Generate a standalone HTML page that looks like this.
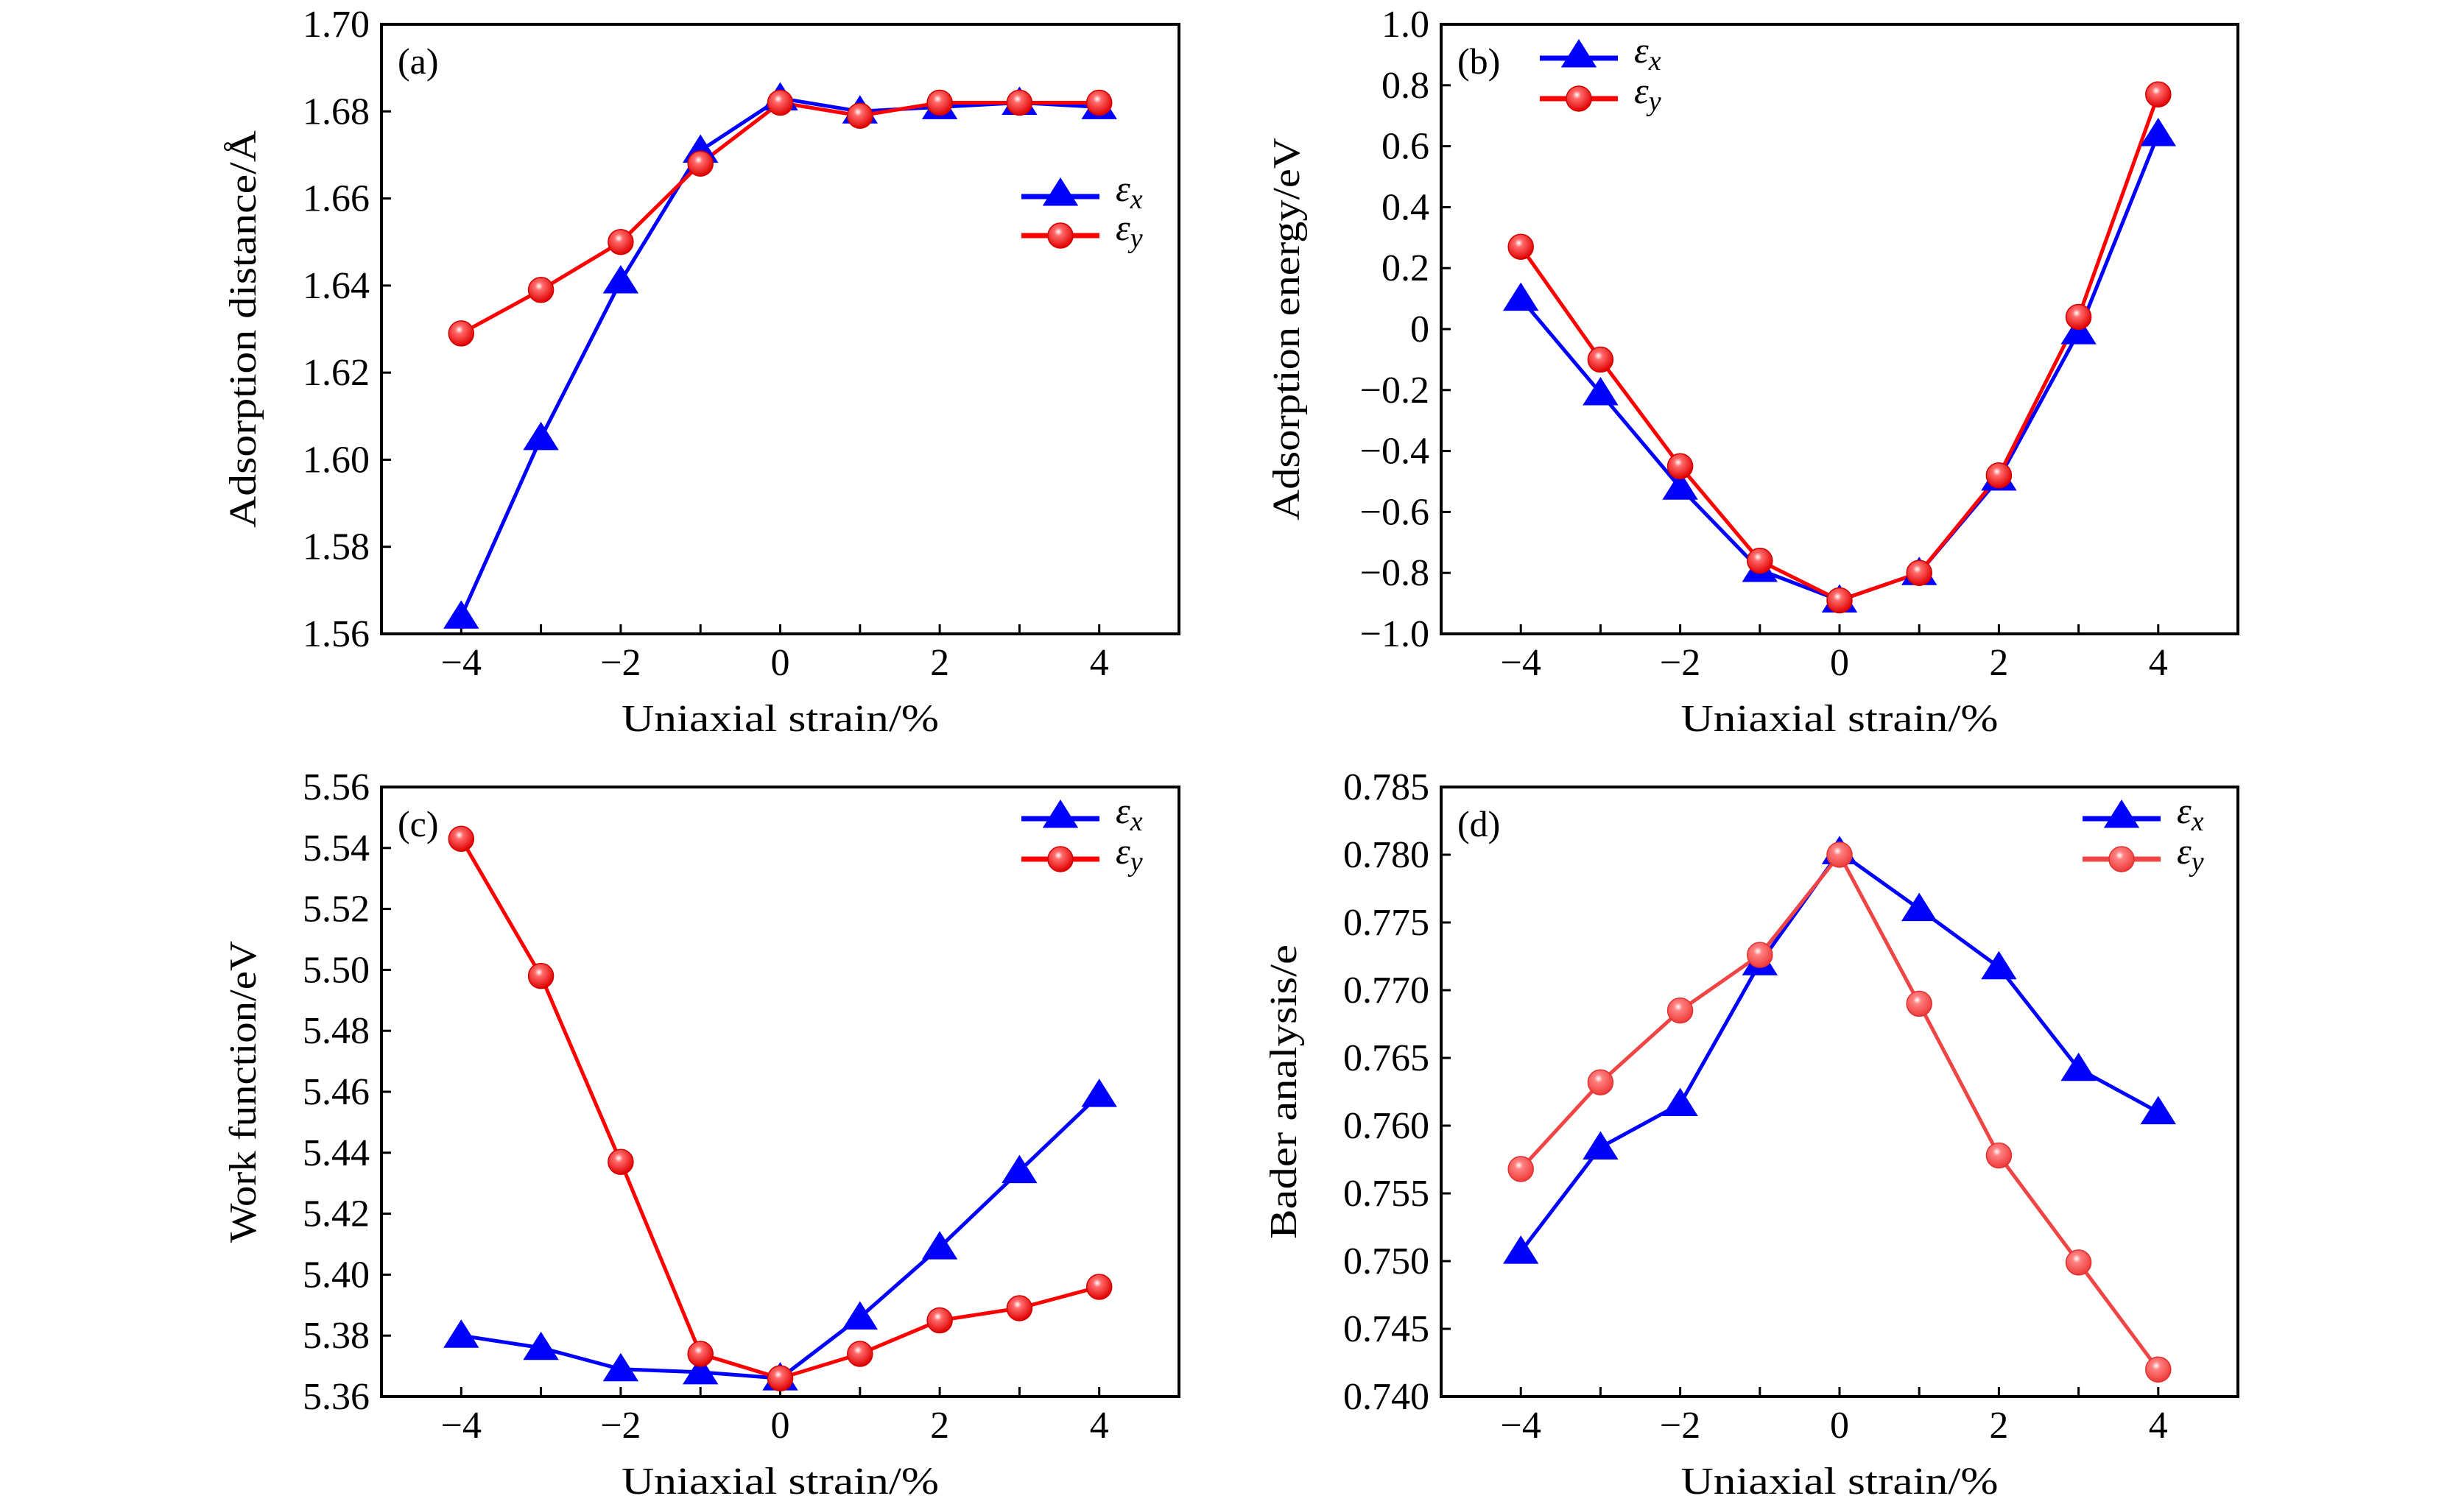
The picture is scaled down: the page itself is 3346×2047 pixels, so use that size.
<!DOCTYPE html>
<html><head><meta charset="utf-8"><style>
html,body{margin:0;padding:0;background:#fff;}
svg{display:block;font-family:"Liberation Serif",serif;}
</style></head><body>
<svg id="chart" xmlns="http://www.w3.org/2000/svg" width="3346" height="2047" viewBox="0 0 3346 2047">
<defs>
<radialGradient id="gr" cx="0.42" cy="0.35" r="0.65"><stop offset="0" stop-color="#fff"/><stop offset="0.25" stop-color="#ff6a6a"/><stop offset="1" stop-color="#e00000"/></radialGradient>
<radialGradient id="gr2" cx="0.42" cy="0.35" r="0.65"><stop offset="0" stop-color="#fff"/><stop offset="0.25" stop-color="#ff8080"/><stop offset="1" stop-color="#ee3a3a"/></radialGradient>
</defs>
</svg>
<script>
const strains = [-4,-3,-2,-1,0,1,2,3,4];
const xTicks = [-4,-2,0,2,4];
const aX = [1.564,1.605,1.641,1.671,1.683,1.680,1.681,1.682,1.681];
const aY = [1.629,1.639,1.650,1.668,1.682,1.679,1.682,1.682,1.682];
const aTicks = ["1.56","1.58","1.60","1.62","1.64","1.66","1.68","1.70"];
const bX = [0.10,-0.21,-0.52,-0.79,-0.89,-0.80,-0.49,-0.01,0.64];
const bY = [0.27,-0.10,-0.45,-0.76,-0.89,-0.80,-0.48,0.04,0.77];
const bTicks = ["−1.0","−0.8","−0.6","−0.4","−0.2","0","0.2","0.4","0.6","0.8","1.0"];
const cX = [5.380,5.376,5.369,5.368,5.366,5.386,5.409,5.434,5.459];
const cY = [5.543,5.498,5.437,5.374,5.366,5.374,5.385,5.389,5.396];
const cTicks = ["5.36","5.38","5.40","5.42","5.44","5.46","5.48","5.50","5.52","5.54","5.56"];
const dX = [0.7507,0.7584,0.7616,0.7720,0.7802,0.7760,0.7717,0.7642,0.7610];
const dY = [0.7568,0.7632,0.7685,0.7726,0.7800,0.7690,0.7578,0.7499,0.7420];
const dTicks = ["0.740","0.745","0.750","0.755","0.760","0.765","0.770","0.775","0.780","0.785"];

const NS="http://www.w3.org/2000/svg";
const svg=document.getElementById('chart');
function mk(tag,attrs,parent){const e=document.createElementNS(NS,tag);for(const k in attrs)e.setAttribute(k,attrs[k]);(parent||svg).appendChild(e);return e;}
function num(s){return parseFloat(s.replace('−','-'));}

function tri(g,x,y){const r=22;return mk('polygon',{points:`${x},${y-r} ${x-r*1.1},${y+r*0.75} ${x+r*1.1},${y+r*0.75}`,fill:'#0000ff'},g);}
function circ(g,x,y,grad){return mk('circle',{cx:x,cy:y,r:17,fill:`url(#${grad})`,stroke:grad==='gr'?'#d00000':'#e03030','stroke-width':1.5},g);}

function legText(g,x,y,sub){const t=mk('text',{x:x,y:y+14,'font-size':50,'font-style':'italic'},g);t.textContent='ε';const s=mk('tspan',{'font-size':38,dy:10},t);s.textContent=sub;return t;}

function panel(o){
  const {L,R,T,B,name,ticks,xs,ys,ytitle,ytx,ylen,leg,label,redGrad,redColor}=o;
  const g=mk('g',{});
  
  
  const y0=num(ticks[0]),y1=num(ticks[ticks.length-1]);
  const sx=v=>L+(v+5)/10*(R-L);
  const sy=v=>B-(v-y0)/(y1-y0)*(B-T);
  const frame=mk('rect',{x:L,y:T,width:R-L,height:B-T,fill:'none',stroke:'#000','stroke-width':4},g);
  
  
  strains.forEach(v=>{mk('line',{x1:sx(v),x2:sx(v),y1:B,y2:B-13,stroke:'#000','stroke-width':3},g);});
  xTicks.forEach(v=>{const t=mk('text',{x:sx(v),y:B+56,'font-size':52,'text-anchor':'middle'},g);t.textContent=v<0?'−'+(-v):String(v);
    
    });
  ticks.forEach(s=>{const v=num(s);const yy=sy(v);mk('line',{x1:L,x2:L+13,y1:yy,y2:yy,stroke:'#000','stroke-width':3},g);
    const t=mk('text',{x:L-16,y:yy+17,'font-size':52,'text-anchor':'end'},g);t.textContent=s;
    
    });
  const xt=mk('text',{x:(L+R)/2,y:B+132,'font-size':52,'text-anchor':'middle',textLength:431,lengthAdjust:'spacingAndGlyphs'},g);xt.textContent='Uniaxial strain/%';
  
  
  const cy=(T+B)/2;
  const yt=mk('text',{x:ytx,y:cy,'font-size':52,'text-anchor':'middle',transform:`rotate(-90 ${ytx} ${cy})`,'dominant-baseline':'middle',textLength:ylen,lengthAdjust:'spacingAndGlyphs'},g);yt.textContent=ytitle;
  
  
  const pl=mk('text',{x:L+22,y:T+67,'font-size':50},g);pl.textContent=label;
  
  
  const bl=mk('polyline',{points:strains.map((v,i)=>sx(v)+','+sy(xs[i])).join(' '),fill:'none',stroke:'#0000ff','stroke-width':5},g);
  
  
  const rl=mk('polyline',{points:strains.map((v,i)=>sx(v)+','+sy(ys[i])).join(' '),fill:'none',stroke:redColor,'stroke-width':5},g);
  
  
  strains.forEach((v,i)=>{const m=tri(g,sx(v),sy(xs[i]));
    
    });
  strains.forEach((v,i)=>{const m=circ(g,sx(v),sy(ys[i]),redGrad);
    
    });
  const lg=mk('g',{},g);
  
  
  const [lx,ly1,ly2]=leg;
  mk('line',{x1:lx,x2:lx+106,y1:ly1,y2:ly1,stroke:'#0000ff','stroke-width':7},lg);
  tri(lg,lx+53,ly1-4);
  legText(lg,lx+128,ly1-8,'x');
  mk('line',{x1:lx,x2:lx+106,y1:ly2,y2:ly2,stroke:redColor,'stroke-width':7},lg);
  circ(lg,lx+53,ly2,redGrad);
  legText(lg,lx+128,ly2-8,'y');
}
panel({L:518,R:1601,T:33,B:861,name:'a',ticks:aTicks,xs:aX,ys:aY,ytitle:'Adsorption distance/Å',ytx:335,ylen:540,leg:[1387,267,320],label:'(a)',redGrad:'gr',redColor:'#ff0000'});
panel({L:1957,R:3039,T:33,B:861,name:'b',ticks:bTicks,xs:bX,ys:bY,ytitle:'Adsorption energy/eV',ytx:1752,ylen:520,leg:[2091,79,134],label:'(b)',redGrad:'gr',redColor:'#ff0000'});
panel({L:518,R:1601,T:1069,B:1897,name:'c',ticks:cTicks,xs:cX,ys:cY,ytitle:'Work function/eV',ytx:335,ylen:410,leg:[1387,1112,1167],label:'(c)',redGrad:'gr',redColor:'#ff0000'});
panel({L:1957,R:3039,T:1069,B:1897,name:'d',ticks:dTicks,xs:dX,ys:dY,ytitle:'Bader analysis/e',ytx:1748,ylen:400,leg:[2828,1112,1167],label:'(d)',redGrad:'gr2',redColor:'#f04545'});
</script>
</body></html>
